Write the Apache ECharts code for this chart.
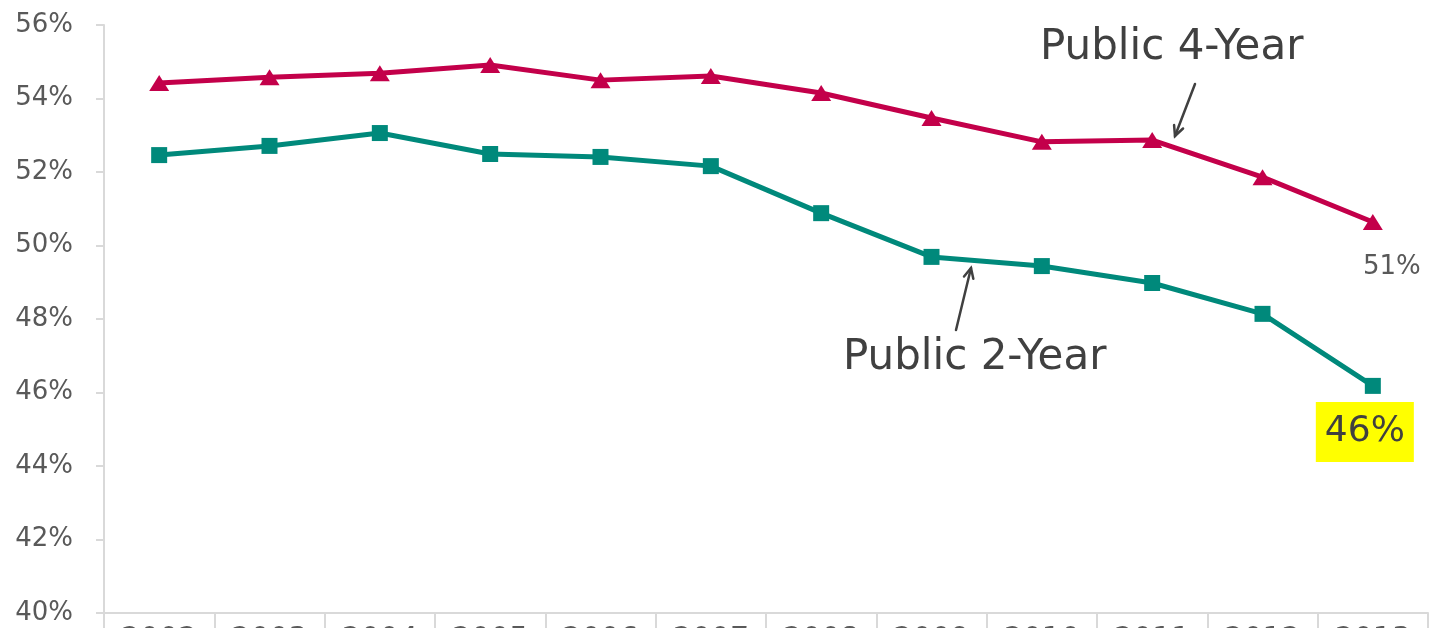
<!DOCTYPE html>
<html>
<head>
<meta charset="utf-8">
<script src="https://cdn.jsdelivr.net/npm/echarts@6/dist/echarts.min.js"></script>
<style>
  html, body { margin: 0; padding: 0; background: #fff; }
  #chart { width: 1441px; height: 628px; }
</style>
</head>
<body>
<div id="chart"></div>
<script>
const YEARS = ["2002", "2003", "2004", "2005", "2006", "2007", "2008", "2009", "2010", "2011", "2012", "2013"];

// completion rates, percent
const PUBLIC_4YR = [54.42, 54.58, 54.69, 54.91, 54.50, 54.61, 54.15, 53.47, 52.82, 52.87, 51.86, 50.64];
const PUBLIC_2YR = [52.46, 52.71, 53.06, 52.49, 52.41, 52.16, 50.88, 49.69, 49.44, 48.98, 48.14, 46.18];

const Y_MIN = 40;
const Y_MAX = 56;
const Y_STEP = 2;

const FONT = "'DejaVu Sans', sans-serif";
const TEXT_COLOR = "#404040";
const AXIS_COLOR = "#d9d9d9";

/**
 * arrow drawn as line + open head
 */
function arrow(x1, y1, x2, y2) {
    const ang = Math.atan2(y2 - y1, x2 - x1);
    const len = 11;
    const spread = 0.45;
    const style = { stroke: TEXT_COLOR, lineWidth: 2.5, lineCap: "round" };
    return [
        { type: "line", shape: { x1: x1, y1: y1, x2: x2, y2: y2 }, style: style },
        {
            type: "polyline",
            shape: {
                points: [
                    [x2 - len * Math.cos(ang - spread), y2 - len * Math.sin(ang - spread)],
                    [x2, y2],
                    [x2 - len * Math.cos(ang + spread), y2 - len * Math.sin(ang + spread)]
                ]
            },
            style: style
        }
    ];
}

function lastOnly(values, labelCfg) {
    return values.map(function (v, i) {
        if (i === values.length - 1) {
            return { value: v, label: labelCfg };
        }
        return v;
    });
}

const chart = echarts.init(document.getElementById("chart"));

const option = {
    animation: false,
    backgroundColor: "#fff",
    textStyle: { fontFamily: FONT },
    grid: { left: 104, right: 13, top: 25, bottom: 15, containLabel: false, outerBoundsMode: "none" },
    xAxis: {
        type: "category",
        data: YEARS,
        boundaryGap: true,
        axisLine: { lineStyle: { color: AXIS_COLOR, width: 2 } },
        axisTick: { show: true, length: 20, alignWithLabel: false, lineStyle: { color: AXIS_COLOR, width: 2 } },
        axisLabel: { margin: 12, fontSize: 30, color: "#595959", fontFamily: FONT }
    },
    yAxis: {
        type: "value",
        min: Y_MIN,
        max: Y_MAX,
        interval: Y_STEP,
        axisLine: { show: true, lineStyle: { color: AXIS_COLOR, width: 2 } },
        axisTick: { show: true, length: 8, lineStyle: { color: AXIS_COLOR, width: 2 } },
        splitLine: { show: false },
        axisLabel: {
            formatter: "{value}%",
            fontSize: 26,
            margin: 31,
            color: "#595959",
            fontFamily: FONT
        }
    },
    series: [
        {
            name: "Public 4-Year",
            type: "line",
            data: lastOnly(PUBLIC_4YR, {
                show: true,
                position: "bottom",
                distance: 24,
                offset: [19, 0],
                fontSize: 26,
                color: "#595959",
                formatter: function (p) { return Math.round(p.value) + "%"; }
            }),
            symbol: "triangle",
            symbolSize: [20, 16],
            itemStyle: { color: "#c3004a" },
            lineStyle: { color: "#c3004a", width: 5 },
            label: { show: false },
            z: 3
        },
        {
            name: "Public 2-Year",
            type: "line",
            data: lastOnly(PUBLIC_2YR, {
                show: true,
                position: "bottom",
                distance: 8,
                offset: [-8, 0],
                fontSize: 36,
                color: TEXT_COLOR,
                backgroundColor: "#ffff00",
                padding: [12, 9, 12, 9],
                formatter: function (p) { return Math.round(p.value) + "%"; }
            }),
            symbol: "rect",
            symbolSize: 16,
            itemStyle: { color: "#00897b" },
            lineStyle: { color: "#00897b", width: 5 },
            label: { show: false },
            z: 3
        }
    ],
    graphic: [
        {
            type: "text",
            x: 1040,
            y: 48,
            style: { text: "Public 4-Year", font: "42px " + FONT, fill: TEXT_COLOR, verticalAlign: "middle" }
        },
        {
            type: "text",
            x: 843,
            y: 358,
            style: { text: "Public 2-Year", font: "42px " + FONT, fill: TEXT_COLOR, verticalAlign: "middle" }
        }
    ].concat(arrow(1195, 84, 1175, 136), arrow(956, 330, 971, 268))
};

chart.setOption(option);
</script>
</body>
</html>
